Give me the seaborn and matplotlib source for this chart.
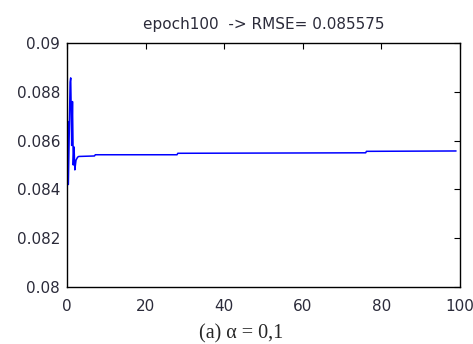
import matplotlib

matplotlib.use("Agg")
import matplotlib.pyplot as plt
import pandas as pd
import seaborn as sns

# RMSE trace (fractional epochs for the early oscillation)
epochs = [0.0, 0.15, 0.35, 0.8, 0.95, 1.2, 1.4, 1.6, 1.8, 2.0, 2.3, 2.7, 3.0,
          7.0, 7.2, 28.0, 28.2, 76.0, 76.2, 99.0]
rmse = [0.0819, 0.0868, 0.0842, 0.0884, 0.08857, 0.0858, 0.0876, 0.0850,
        0.08574, 0.0848, 0.0852, 0.08532, 0.08535, 0.08537, 0.08542, 0.08542,
        0.08548, 0.08550, 0.08556, 0.085575]
x_ticks = [0, 20, 40, 60, 80, 100]
y_ticks = [0.08, 0.082, 0.084, 0.086, 0.088, 0.09]
y_labels = ["0.08", "0.082", "0.084", "0.086", "0.088", "0.09"]

sns.set_style("white")
plt.rcParams["font.family"] = ["DejaVu Sans"]

df = pd.DataFrame({"epoch": epochs, "rmse": rmse})

fig = plt.figure(figsize=(4.73, 3.44), dpi=100)
ax = fig.add_axes([0.1416, 0.1657, 0.8309, 0.7093])
sns.lineplot(data=df, x="epoch", y="rmse", ax=ax, color="#0000ff",
             linewidth=1.1, sort=False, estimator=None)

ax.set_xlim(0, 100)
ax.set_ylim(0.08, 0.09)
ax.set_xticks(x_ticks)
ax.set_xticklabels([str(t) for t in x_ticks])
ax.set_yticks(y_ticks)
ax.set_yticklabels(y_labels)
ax.tick_params(direction="in", top=True, right=True, length=4, width=0.8,
               labelsize=11, colors="black")
ax.tick_params(axis="x", pad=9)
ax.tick_params(axis="y", pad=5)
for lbl in ax.get_xticklabels() + ax.get_yticklabels():
    lbl.set_color("#2b2b3a")
for s in ax.spines.values():
    s.set_visible(True)
    s.set_color("black")
    s.set_linewidth(1.0)
ax.set_xlabel("")
ax.set_ylabel("")
ax.set_title("epoch100  -> RMSE= 0.085575", fontsize=11, color="#2b2b3a", pad=10)

fig.text(0.51, 0.03, "(a) α = 0,1", ha="center", va="center",
         fontsize=14.5, family=["Liberation Serif", "DejaVu Serif"])

fig.savefig("out.png", dpi=100)
plt.close(fig)
